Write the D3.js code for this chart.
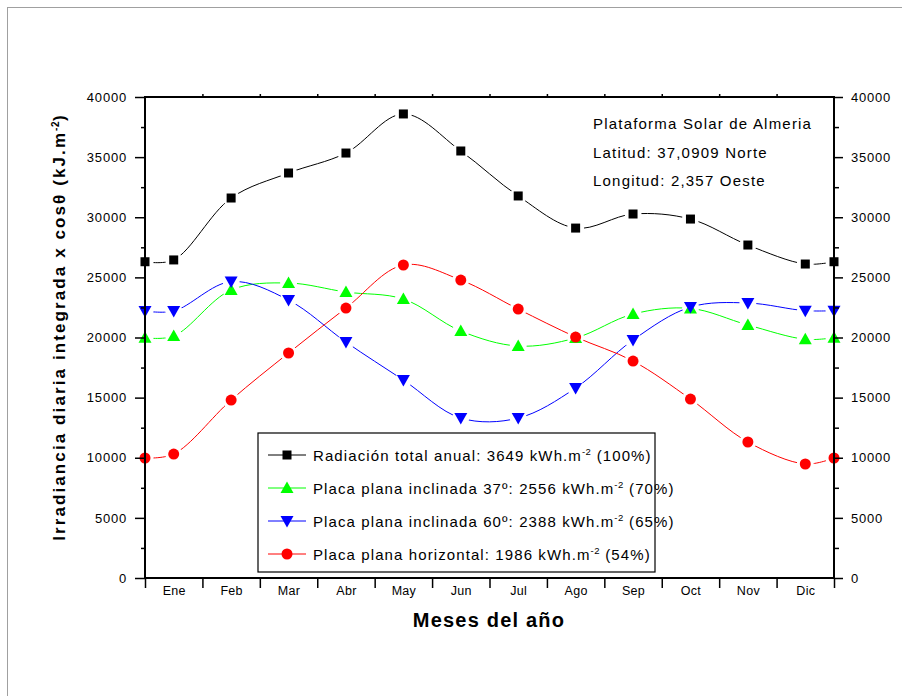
<!DOCTYPE html>
<html><head><meta charset="utf-8">
<script src="https://cdn.jsdelivr.net/npm/d3@7"></script>
<style>
body{margin:0;background:#fff;}
svg text{font-family:"Liberation Sans",Arial,sans-serif;}
</style></head>
<body><svg id="c" width="902" height="696"></svg>
<script>
const months = ["Ene","Feb","Mar","Abr","May","Jun","Jul","Ago","Sep","Oct","Nov","Dic"];
const xPos = [0,0.5,1.5,2.5,3.5,4.5,5.5,6.5,7.5,8.5,9.5,10.5,11.5,12];
const total  = [26300,26450,31600,33680,35340,38590,35510,31770,29100,30270,29850,27690,26110,26300];
const incl37 = [19980,20120,23950,24530,23780,23200,20540,19290,19960,21950,22420,21040,19850,19980];
const incl60 = [22200,22200,24650,23110,19620,16460,13300,13300,15800,19790,22530,22870,22230,22230];
const horiz  = [9980,10310,14800,18710,22450,26030,24780,22360,20040,18040,14880,11310,9480,9980];
const yTicks = [0,5000,10000,15000,20000,25000,30000,35000,40000];
const yMinor = [2500,7500,12500,17500,22500,27500,32500,37500];
const legendLabels = [
  ["Radiación total anual: 3649 kWh.m","-2"," (100%)"],
  ["Placa plana inclinada 37º: 2556 kWh.m","-2"," (70%)"],
  ["Placa plana inclinada 60º: 2388 kWh.m","-2"," (65%)"],
  ["Placa plana horizontal: 1986 kWh.m","-2"," (54%)"]
];
const info = ["Plataforma Solar de Almeria","Latitud: 37,0909 Norte","Longitud: 2,357 Oeste"];

const series = [
  {vals: total,  color:"#000000", sym:"square"},
  {vals: incl37, color:"#00ff00", sym:"up"},
  {vals: incl60, color:"#0000ff", sym:"down"},
  {vals: horiz,  color:"#ff0000", sym:"circle"}
];

const svg = d3.select("#c");
const L=145,R=834,T=97,B=578;
const x = d3.scaleLinear().domain([0,12]).range([L,R]);
const y = d3.scaleLinear().domain([0,40000]).range([B,T]);

// outer frame
svg.append("line").attr("x1",7).attr("x2",902).attr("y1",7.5).attr("y2",7.5).attr("stroke","#a0a0a0");
svg.append("line").attr("x1",7.5).attr("x2",7.5).attr("y1",7).attr("y2",696).attr("stroke","#a0a0a0");

function sym(g, type, color){
  if(type==="square") g.append("rect").attr("x",-4.5).attr("y",-4.5).attr("width",9).attr("height",9).attr("fill",color);
  else if(type==="circle") g.append("circle").attr("r",5.5).attr("fill",color);
  else if(type==="up") g.append("path").attr("d","M0,-6.5L6.5,5L-6.5,5Z").attr("fill",color);
  else g.append("path").attr("d","M0,6.5L6.5,-5L-6.5,-5Z").attr("fill",color);
}

const defs = svg.append("defs");
const line = d3.line().x((d,i)=>x(xPos[i])).y(d=>y(d)).curve(d3.curveCatmullRom.alpha(0.5));
series.forEach((s,k)=>{
  const m = defs.append("mask").attr("id","m"+k).attr("maskUnits","userSpaceOnUse")
    .attr("x",0).attr("y",0).attr("width",902).attr("height",696);
  m.append("rect").attr("width",902).attr("height",696).attr("fill","#fff");
  s.vals.forEach((v,i)=>m.append("circle").attr("cx",x(xPos[i])).attr("cy",y(v)).attr("r",8.5).attr("fill","#000"));
  svg.append("path").datum(s.vals).attr("d",line).attr("fill","none")
    .attr("stroke",s.color).attr("stroke-width",1).attr("mask","url(#m"+k+")");
  s.vals.forEach((v,i)=>{
    const g = svg.append("g").attr("transform",`translate(${x(xPos[i])},${y(v)})`);
    sym(g,s.sym,s.color);
  });
});

// axes
function styleAxis(g){
  g.select(".domain").remove();
  g.selectAll(".tick line").attr("stroke","#000").attr("stroke-width",1.5);
  g.selectAll("text").attr("fill","#000").style("font-size","13px").attr("letter-spacing","0.8px")
    .style("font-family","Liberation Sans, Arial, sans-serif");
}
const gl = svg.append("g").attr("transform",`translate(${L},0)`)
  .call(d3.axisLeft(y).tickValues(yTicks).tickSize(10).tickPadding(8).tickFormat(d3.format("d")));
styleAxis(gl);
const glm = svg.append("g").attr("transform",`translate(${L},0)`)
  .call(d3.axisLeft(y).tickValues(yMinor).tickSize(4).tickFormat(""));
styleAxis(glm);
const gr = svg.append("g").attr("transform",`translate(${R},0)`)
  .call(d3.axisRight(y).tickValues(yTicks).tickSize(9).tickPadding(8).tickFormat(d3.format("d")));
styleAxis(gr);
const grm = svg.append("g").attr("transform",`translate(${R},0)`)
  .call(d3.axisRight(y).tickValues(yMinor).tickSize(5).tickFormat(""));
styleAxis(grm);
const gb = svg.append("g").attr("transform",`translate(0,${B})`)
  .call(d3.axisBottom(x).tickValues(d3.range(0,13)).tickSize(10).tickFormat(""));
styleAxis(gb);
const gbl = svg.append("g").attr("transform",`translate(0,${B})`)
  .call(d3.axisBottom(x).tickValues(months.map((m,i)=>i+0.5)).tickSize(0).tickPadding(8).tickFormat((d,i)=>months[i]));
styleAxis(gbl);
gbl.selectAll("text").style("font-size","12.5px").attr("letter-spacing","0.3px");
const gt = svg.append("g").attr("transform",`translate(0,${T})`)
  .call(d3.axisTop(x).tickValues(d3.range(1,12)).tickSize(3).tickFormat(""));
styleAxis(gt);

// frame lines
svg.append("rect").attr("x",L).attr("y",T).attr("width",R-L).attr("height",B-T)
  .attr("fill","none").attr("stroke","#000").attr("stroke-width",2);

// info text
info.forEach((t,i)=>svg.append("text").attr("x",593).attr("y",129+i*28.5).text(t)
  .style("font-size","15px").attr("letter-spacing","1.2px"));

// legend
svg.append("rect").attr("x",258).attr("y",433).attr("width",397).attr("height",139)
  .attr("fill","#fff").attr("stroke","#000").attr("stroke-width",1.2);
series.forEach((s,i)=>{
  const yy = 455+i*33;
  svg.append("line").attr("x1",268).attr("x2",306).attr("y1",yy).attr("y2",yy).attr("stroke",s.color);
  const g = svg.append("g").attr("transform",`translate(287,${yy})`);
  sym(g,s.sym,s.color);
  const t = svg.append("text").attr("x",313).attr("y",yy+5.5).style("font-size","15px").attr("letter-spacing","1.1px");
  t.append("tspan").text(legendLabels[i][0]);
  t.append("tspan").attr("dy",-6).style("font-size","9.5px").attr("letter-spacing","0.5px").text(legendLabels[i][1]);
  t.append("tspan").attr("dy",6).text(legendLabels[i][2]);
});

// axis titles
svg.append("text").attr("x",489).attr("y",627).attr("text-anchor","middle")
  .style("font-size","20px").style("font-weight","bold").attr("letter-spacing","1.2px").text("Meses del año");
const yt = svg.append("text").attr("transform","translate(65,327) rotate(-90)").attr("text-anchor","middle")
  .style("font-size","17px").style("font-weight","bold").attr("letter-spacing","2.1px");
yt.append("tspan").text("Irradiancia diaria integrada  x  cos\u03b8 (kJ.m");
yt.append("tspan").attr("dy",-6).style("font-size","10px").attr("letter-spacing","0.5px").text("-2");
yt.append("tspan").attr("dy",6).text(")");
</script></body></html>
